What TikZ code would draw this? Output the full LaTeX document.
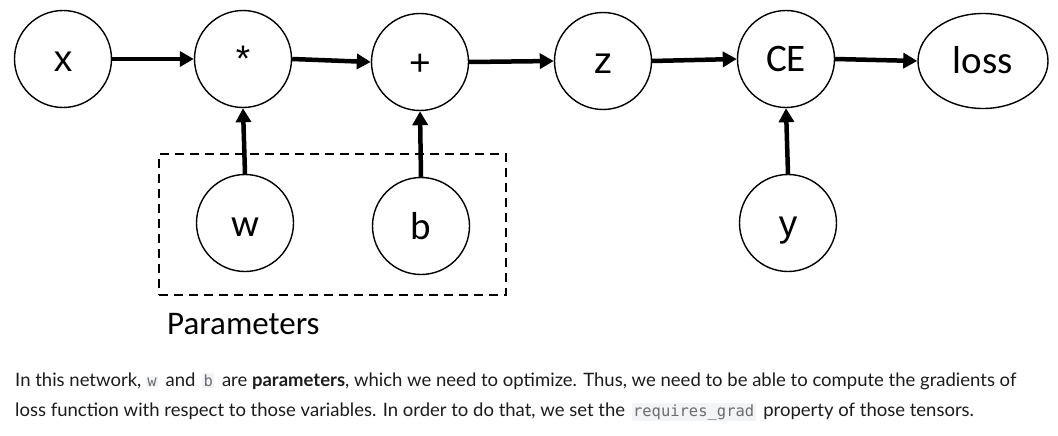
\documentclass[tikz,border=0pt]{standalone}
\usepackage{fontspec}
\usepackage{xcolor}
\usetikzlibrary{arrows.meta,shapes.geometric}
\newfontfamily\nodefontA{Liberation Sans}
\newfontfamily\nodefontB{Carlito}
\newfontfamily\bodyfont{Lato}
\newfontfamily\codefont{DejaVu Sans Mono}
\definecolor{codebg}{HTML}{F3F4F7}
\definecolor{codefg}{HTML}{6C6C6D}
\definecolor{bodyfg}{HTML}{1C1C1C}
\newcommand\codebox[1]{{\setlength{\fboxsep}{1.3pt}\colorbox{codebg}{\codefont\fontsize{15.5}{17}\selectfont\textcolor{codefg}{#1}}}}
\begin{document}
\begin{tikzpicture}[x=1pt,y=-1pt,
  opnode/.style={circle,draw,line width=1.4pt,minimum size=97pt,inner sep=0pt,text height=26pt,text depth=0pt},
  fa/.style={font=\nodefontA\fontsize{37}{40}\selectfont},
  fb/.style={font=\nodefontB\fontsize{39}{43}\selectfont},
  arr/.style={line width=4.5pt,-{Triangle[length=14pt,width=15pt]}},
  param/.style={draw,line width=1.4pt,dash pattern=on 9pt off 6pt}]
\useasboundingbox (0,0) rectangle (1058,436);
\fill[white] (0,0) rectangle (1058,436);
\node[opnode,fa] (x) at (63,59) {x};
\node[opnode,fa] (mul) at (243,59) {*};
\node[opnode,fa] (plus) at (420,62) {+};
\node[opnode,fa] (z) at (603,61) {z};
\node[opnode,fb] (ce) at (786,59) {CE};
\node[ellipse,draw,line width=1.4pt,minimum width=130pt,minimum height=95pt,inner sep=0pt,text height=26pt,text depth=0pt,fb] (loss) at (983,61) {loss};
\node[opnode,fb] (w) at (245,223) {w};
\node[opnode,fb] (b) at (421,226) {b};
\node[opnode,fa] (y) at (788,223) {y};
\node[param,minimum width=347pt,minimum height=141pt,inner sep=0pt] (params) at (332.5,224.5) {};
\node[anchor=base west,inner sep=0pt,font=\nodefontB\fontsize{33}{36}\selectfont] (plabel) at (167,334) {Parameters};
\draw[arr] (x) -- (mul);
\draw[arr] (mul.east) -- (plus.west);
\draw[arr] (plus.east) -- (z.west);
\draw[arr] (z.east) -- (ce.west);
\draw[arr] (ce.east) -- (loss.west);
\draw[arr] (w.north) -- (mul.south);
\draw[arr] (b.north) -- (plus.south);
\draw[arr] (y.north) -- (ce.south);
\node[anchor=base west,inner sep=0pt,text=bodyfg,font=\bodyfont\fontsize{18.5}{22}\selectfont] (line1) at (15,386) {In this network, \codebox{w}\hspace{3pt} and \hspace{2pt}\codebox{b}\hspace{3pt} are \textbf{parameters}, which we need to optimize. Thus, we need to be able to compute the gradients of};
\node[anchor=base west,inner sep=0pt,text=bodyfg,font=\bodyfont\fontsize{18.5}{22}\selectfont] (line2) at (15,416) {loss function with respect to those variables. In order to do that, we set the \hspace{2pt}\codebox{requires\_grad}\hspace{3pt} property of those tensors.};
\end{tikzpicture}
\end{document}
